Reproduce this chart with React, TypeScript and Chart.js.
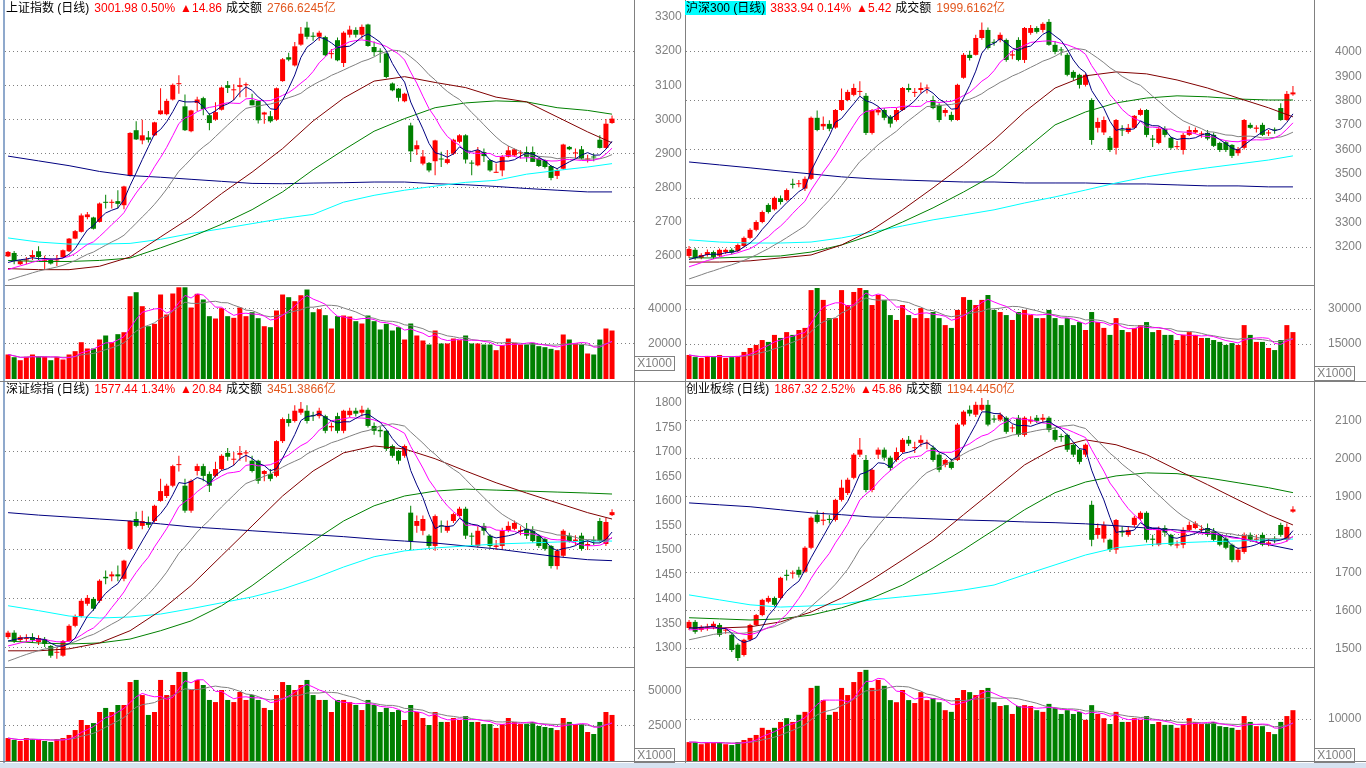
import React, { useEffect, useRef } from "react";
import { Chart, registerables } from "chart.js";

Chart.register(...registerables);

const FONT = '"Liberation Sans", Arial, "Noto Sans CJK SC", sans-serif';
const UP = "#ff0000";
const DOWN = "#008000";
const LINE = "#808080";
const SAMPLE_IDX = [0, 5, 10, 15, 20, 25, 30, 35, 40, 45, 50, 55, 60, 65, 70, 75, 80, 85, 90, 95, 99];

// ---------------- 上证指数 ----------------
const TL_OPEN = [
  2598, 2608, 2575, 2586, 2596, 2613, 2585, 2589, 2586, 2596,
  2613, 2650, 2670, 2713, 2712, 2699, 2758, 2755, 2760, 2748,
  2834, 2968, 2938, 2947, 2953, 3015, 3015, 3058, 3103, 3038,
  2965, 3048, 3062, 3012, 2999, 3028, 3100, 3085, 3095, 3100,
  3056, 3054, 3014, 3009, 2999, 3112, 3182, 3158, 3219, 3269,
  3245, 3242, 3241, 3191, 3232, 3165, 3248, 3262, 3248, 3278,
  3212, 3201, 3193, 3105, 3090, 3053, 2982, 2912, 2870, 2872,
  2877, 2884, 2872, 2899, 2934, 2953, 2872, 2865, 2904, 2880,
  2843, 2850, 2890, 2894, 2900, 2904, 2904, 2885, 2880, 2863,
  2834, 2855, 2919, 2900, 2912, 2882, 2890, 2940, 2916, 2989,
];
const TL_HIGH = [
  2614, 2614, 2587, 2596, 2616, 2628, 2600, 2592, 2602, 2618,
  2652, 2675, 2724, 2728, 2714, 2756, 2779, 2765, 2792, 2805,
  2962, 2994, 2999, 2966, 2993, 3091, 3060, 3105, 3129, 3073,
  3028, 3066, 3066, 3018, 3050, 3096, 3112, 3103, 3122, 3108,
  3075, 3056, 3022, 3024, 3093, 3180, 3195, 3227, 3271, 3286,
  3255, 3260, 3245, 3206, 3240, 3258, 3274, 3270, 3278, 3280,
  3228, 3208, 3196, 3108, 3092, 3078, 2990, 2938, 2910, 2875,
  2940, 2905, 2910, 2943, 2956, 2956, 2880, 2919, 2914, 2882,
  2870, 2895, 2922, 2914, 2909, 2920, 2920, 2888, 2882, 2865,
  2855, 2928, 2922, 2914, 2922, 2896, 2899, 2953, 3001, 3011,
];
const TL_LOW = [
  2596, 2575, 2573, 2575, 2587, 2587, 2559, 2574, 2570, 2594,
  2611, 2648, 2668, 2707, 2677, 2697, 2738, 2738, 2738, 2736,
  2832, 2939, 2927, 2932, 2951, 3013, 3012, 3055, 3075, 2966,
  2962, 3024, 3012, 2968, 2996, 3026, 3077, 3056, 3065, 3065,
  3041, 2988, 2987, 2990, 2996, 3110, 3170, 3155, 3216, 3235,
  3230, 3230, 3185, 3178, 3170, 3153, 3240, 3240, 3236, 3213,
  3185, 3166, 3120, 3082, 3052, 3050, 2875, 2895, 2865, 2845,
  2836, 2860, 2868, 2895, 2930, 2870, 2836, 2862, 2875, 2846,
  2843, 2833, 2888, 2890, 2885, 2875, 2875, 2860, 2856, 2821,
  2825, 2852, 2909, 2885, 2882, 2873, 2877, 2914, 2914, 2987,
];
const TL_CLOSE = [
  2611, 2584, 2584, 2589, 2602, 2596, 2588, 2577, 2589, 2616,
  2650, 2672, 2718, 2721, 2679, 2753, 2755, 2758, 2752, 2803,
  2960, 2941, 2953, 2940, 2991, 3026, 3054, 3101, 3106, 2968,
  3026, 3058, 3030, 2989, 3021, 3093, 3092, 3088, 3100, 3102,
  3041, 2997, 3020, 2994, 3091, 3176, 3175, 3214, 3251, 3242,
  3242, 3254, 3188, 3194, 3173, 3254, 3263, 3248, 3271, 3215,
  3197, 3198, 3124, 3085, 3063, 3075, 2906, 2924, 2891, 2850,
  2938, 2882, 2883, 2940, 2953, 2882, 2870, 2909, 2892, 2850,
  2846, 2890, 2909, 2912, 2903, 2890, 2875, 2863, 2860, 2828,
  2850, 2926, 2912, 2903, 2885, 2885, 2888, 2916, 2987, 3002,
];
const TL_VOL = [
  14000, 12460, 10740, 12680, 14000, 13030, 12680, 10740, 12680, 11140,
  14000, 15900, 21030, 17430, 17430, 22570, 24860, 21030, 25620, 26740,
  47300, 49600, 41600, 30170, 31540, 48280, 36860, 48860, 52400, 52400,
  40850, 48670, 45430, 35900, 34570, 40470, 35900, 34950, 40850, 35900,
  38170, 34760, 30170, 29600, 39140, 48280, 46750, 44470, 47870, 51140,
  38170, 39900, 36470, 28860, 35900, 36280, 35710, 33040, 31710, 36280,
  33040, 28290, 31530, 27710, 29620, 22570, 31710, 24860, 22000, 19710,
  27710, 20290, 20290, 23140, 22190, 24860, 20290, 20290, 19710, 19710,
  16470, 19330, 23140, 20670, 19710, 19710, 20670, 18760, 18190, 17240,
  16470, 25430, 22570, 20290, 19710, 14570, 14000, 22570, 28860, 27710,
];
const TL_PRIOR = [2480, 2470, 2485, 2490, 2495, 2500, 2505, 2510, 2515, 2520, 2525, 2532, 2540, 2545, 2548, 2560, 2568, 2578, 2583];
const TL_MA60 = [2562, 2559, 2559, 2569, 2596, 2655, 2713, 2782, 2845, 2914, 2995, 3062, 3112, 3125, 3108, 3093, 3065, 3051, 3007, 2963, 2931];
const TL_MA120 = [2586, 2583, 2583, 2586, 2593, 2623, 2655, 2692, 2735, 2787, 2852, 2910, 2965, 3002, 3034, 3048, 3054, 3051, 3034, 3026, 3015];
const TL_MA250 = [2652, 2640, 2634, 2634, 2636, 2648, 2665, 2679, 2694, 2709, 2721, 2757, 2777, 2792, 2804, 2815, 2821, 2839, 2850, 2860, 2870];
const TL_MALONG = [2892, 2878, 2864, 2847, 2835, 2830, 2824, 2818, 2812, 2811, 2813, 2814, 2816, 2816, 2811, 2808, 2803, 2797, 2792, 2787, 2787];
const TL_TICKS = [2600, 2700, 2800, 2900, 3000, 3100, 3200, 3300];
const TL_GRID = [2600, 2700, 2800, 2900, 3000, 3100, 3200];
const TL_VTICKS = [20000, 40000];

// ---------------- 沪深300 ----------------
const TR_OPEN = [
  3164, 3189, 3156, 3168, 3180, 3165, 3180, 3189, 3185, 3205,
  3238, 3271, 3303, 3373, 3355, 3400, 3393, 3460, 3458, 3440,
  3480, 3730, 3695, 3705, 3690, 3762, 3803, 3824, 3836, 3820,
  3668, 3752, 3762, 3735, 3721, 3762, 3852, 3832, 3844, 3850,
  3803, 3783, 3750, 3742, 3721, 3894, 3988, 3988, 4057, 4090,
  4040, 4049, 4049, 3985, 4049, 3967, 4078, 4098, 4090, 4123,
  4029, 4010, 3988, 3918, 3906, 3865, 3803, 3689, 3670, 3648,
  3607, 3682, 3672, 3689, 3742, 3762, 3645, 3627, 3685, 3648,
  3610, 3598, 3660, 3670, 3662, 3668, 3660, 3627, 3630, 3619,
  3585, 3607, 3701, 3685, 3701, 3666, 3682, 3770, 3721, 3826,
];
const TR_HIGH = [
  3205, 3197, 3175, 3190, 3186, 3195, 3195, 3196, 3215, 3244,
  3278, 3310, 3350, 3380, 3408, 3412, 3440, 3480, 3475, 3490,
  3735, 3760, 3735, 3720, 3766, 3850, 3845, 3870, 3880, 3832,
  3766, 3775, 3770, 3742, 3770, 3856, 3870, 3852, 3875, 3866,
  3820, 3790, 3770, 3755, 3870, 3995, 4005, 4070, 4120, 4100,
  4052, 4080, 4055, 4005, 4060, 4102, 4110, 4105, 4122, 4135,
  4045, 4020, 3995, 3925, 3910, 3912, 3810, 3730, 3735, 3655,
  3725, 3700, 3705, 3742, 3768, 3766, 3660, 3695, 3695, 3652,
  3635, 3668, 3695, 3690, 3675, 3680, 3670, 3632, 3635, 3622,
  3610, 3725, 3710, 3700, 3710, 3680, 3690, 3790, 3840, 3860,
];
const TR_LOW = [
  3156, 3148, 3150, 3162, 3152, 3160, 3172, 3170, 3180, 3200,
  3232, 3265, 3298, 3338, 3350, 3375, 3388, 3440, 3445, 3430,
  3475, 3675, 3680, 3675, 3685, 3758, 3798, 3818, 3820, 3660,
  3662, 3740, 3720, 3690, 3715, 3758, 3835, 3815, 3830, 3830,
  3765, 3712, 3735, 3715, 3718, 3890, 3965, 3985, 4050, 4010,
  4025, 4040, 3960, 3970, 3962, 3955, 4070, 4075, 4080, 4025,
  3990, 3985, 3900, 3885, 3850, 3858, 3620, 3670, 3660, 3590,
  3580, 3655, 3665, 3685, 3738, 3650, 3610, 3622, 3650, 3600,
  3600, 3580, 3655, 3665, 3648, 3638, 3610, 3590, 3590, 3565,
  3575, 3600, 3685, 3670, 3655, 3655, 3665, 3718, 3718, 3820,
];
const TR_CLOSE = [
  3193, 3156, 3168, 3180, 3160, 3189, 3189, 3178, 3209, 3238,
  3271, 3303, 3344, 3344, 3402, 3385, 3434, 3455, 3462, 3480,
  3730, 3680, 3705, 3685, 3762, 3803, 3836, 3852, 3840, 3668,
  3762, 3762, 3730, 3706, 3762, 3852, 3844, 3836, 3852, 3853,
  3770, 3721, 3762, 3721, 3865, 3988, 3975, 4057, 4090, 4016,
  4037, 4070, 3967, 3990, 3967, 4098, 4098, 4082, 4115, 4029,
  4000, 4006, 3906, 3894, 3865, 3906, 3639, 3713, 3721, 3598,
  3721, 3678, 3689, 3738, 3762, 3660, 3640, 3685, 3660, 3607,
  3614, 3660, 3680, 3680, 3666, 3645, 3615, 3598, 3598, 3574,
  3602, 3721, 3689, 3690, 3660, 3670, 3678, 3721, 3828, 3834,
];
const TR_VOL = [
  10300, 9400, 9000, 9900, 9400, 10300, 9000, 9400, 9900, 11600,
  13300, 14600, 16700, 15900, 18900, 17600, 20100, 18900, 21000, 21900,
  38100, 39000, 33900, 26100, 26100, 38100, 31700, 37300, 39000, 38100,
  31700, 36000, 33900, 27400, 25300, 31700, 27400, 26100, 30400, 26100,
  28700, 26100, 23100, 21900, 29600, 35100, 33900, 31700, 33900, 36000,
  29600, 28700, 27400, 25300, 28700, 29600, 27400, 26100, 26100, 29600,
  26100, 23100, 26100, 23100, 24400, 21000, 28700, 24400, 21900, 18900,
  26100, 21000, 20100, 21900, 23100, 24400, 20100, 21000, 18900, 18900,
  16700, 18900, 20100, 18900, 17600, 17600, 16700, 15900, 14600, 15400,
  14600, 23100, 18900, 15900, 15900, 13300, 12400, 16700, 23100, 20100,
];
const TR_PRIOR = [2990, 2995, 3000, 3010, 3015, 3020, 3030, 3035, 3050, 3055, 3075, 3082, 3090, 3098, 3105, 3120, 3135, 3145, 3153];
const TR_MA60 = [3139, 3139, 3144, 3156, 3168, 3209, 3271, 3353, 3443, 3537, 3639, 3754, 3852, 3902, 3918, 3910, 3885, 3852, 3811, 3771, 3734];
const TR_MA120 = [3156, 3156, 3160, 3164, 3180, 3209, 3250, 3303, 3361, 3426, 3496, 3598, 3701, 3754, 3791, 3811, 3820, 3816, 3807, 3803, 3803];
const TR_MA250 = [3230, 3221, 3217, 3217, 3221, 3238, 3262, 3287, 3312, 3332, 3353, 3381, 3406, 3434, 3463, 3488, 3508, 3525, 3541, 3557, 3574];
const TR_MALONG = [3549, 3537, 3525, 3512, 3500, 3488, 3480, 3475, 3471, 3467, 3467, 3463, 3463, 3463, 3459, 3459, 3455, 3451, 3451, 3447, 3447];
const TR_TICKS = [3200, 3300, 3400, 3500, 3600, 3700, 3800, 3900, 4000];
const TR_GRID = [3200, 3400, 3600, 3800, 4000];
const TR_VTICKS = [15000, 30000];

// ---------------- 深证综指 ----------------
const BL_OPEN = [
  1322, 1331, 1316, 1318, 1322, 1312, 1318, 1304, 1290, 1284,
  1314, 1345, 1365, 1390, 1400, 1396, 1445, 1446, 1450, 1441,
  1502, 1563, 1549, 1556, 1559, 1600, 1610, 1631, 1673, 1631,
  1580, 1661, 1671, 1655, 1651, 1665, 1698, 1684, 1694, 1697,
  1682, 1682, 1655, 1655, 1651, 1722, 1767, 1763, 1780, 1784,
  1775, 1773, 1773, 1750, 1773, 1743, 1775, 1784, 1780, 1786,
  1753, 1745, 1743, 1712, 1702, 1692, 1576, 1549, 1539, 1529,
  1508, 1550, 1539, 1559, 1569, 1584, 1529, 1508, 1549, 1529,
  1506, 1508, 1539, 1543, 1537, 1543, 1539, 1529, 1522, 1508,
  1467, 1488, 1529, 1518, 1529, 1508, 1520, 1559, 1512, 1571,
];
const BL_HIGH = [
  1335, 1336, 1326, 1328, 1330, 1326, 1322, 1306, 1300, 1316,
  1348, 1368, 1400, 1408, 1404, 1440, 1458, 1456, 1468, 1480,
  1560, 1578, 1580, 1568, 1592, 1645, 1635, 1674, 1692, 1645,
  1644, 1676, 1676, 1660, 1680, 1695, 1708, 1700, 1712, 1704,
  1692, 1684, 1663, 1665, 1724, 1770, 1778, 1795, 1802, 1795,
  1782, 1790, 1776, 1760, 1780, 1786, 1790, 1790, 1794, 1790,
  1760, 1752, 1745, 1715, 1704, 1715, 1590, 1570, 1570, 1532,
  1572, 1560, 1560, 1576, 1588, 1588, 1535, 1548, 1555, 1532,
  1520, 1545, 1558, 1560, 1548, 1555, 1548, 1532, 1525, 1510,
  1502, 1542, 1535, 1530, 1535, 1520, 1528, 1565, 1565, 1583,
];
const BL_LOW = [
  1318, 1310, 1312, 1312, 1310, 1306, 1302, 1280, 1278, 1282,
  1312, 1342, 1362, 1386, 1376, 1392, 1430, 1436, 1436, 1436,
  1500, 1546, 1542, 1545, 1556, 1598, 1606, 1628, 1660, 1576,
  1576, 1652, 1640, 1618, 1648, 1662, 1682, 1672, 1682, 1680,
  1658, 1635, 1640, 1640, 1648, 1718, 1752, 1760, 1776, 1758,
  1763, 1768, 1738, 1742, 1738, 1738, 1770, 1772, 1772, 1750,
  1735, 1730, 1702, 1688, 1675, 1688, 1500, 1535, 1530, 1502,
  1498, 1535, 1535, 1555, 1566, 1522, 1510, 1505, 1530, 1504,
  1500, 1500, 1536, 1540, 1530, 1522, 1515, 1504, 1498, 1462,
  1460, 1485, 1515, 1510, 1498, 1500, 1510, 1515, 1508, 1569,
];
const BL_CLOSE = [
  1331, 1314, 1322, 1320, 1316, 1320, 1308, 1284, 1292, 1314,
  1345, 1365, 1396, 1402, 1380, 1437, 1442, 1450, 1446, 1478,
  1559, 1549, 1559, 1551, 1590, 1620, 1631, 1671, 1675, 1580,
  1641, 1671, 1651, 1631, 1665, 1692, 1690, 1686, 1698, 1699,
  1661, 1641, 1661, 1645, 1722, 1767, 1759, 1784, 1788, 1763,
  1773, 1784, 1743, 1753, 1743, 1784, 1784, 1778, 1786, 1753,
  1743, 1742, 1706, 1692, 1682, 1712, 1518, 1559, 1563, 1508,
  1569, 1548, 1549, 1573, 1584, 1529, 1527, 1539, 1539, 1508,
  1509, 1539, 1549, 1555, 1540, 1529, 1518, 1508, 1502, 1467,
  1498, 1539, 1518, 1521, 1502, 1512, 1518, 1518, 1557, 1577,
];
const BL_VOL = [
  16400, 15000, 14300, 16400, 15700, 15000, 14300, 13600, 15700, 16400,
  18600, 22100, 29300, 25700, 27100, 35000, 37900, 35000, 40000, 40000,
  56400, 57900, 47100, 32900, 35000, 57900, 47100, 54300, 63600, 63600,
  50700, 57900, 54300, 43600, 42100, 50700, 43600, 42100, 49300, 43600,
  47100, 43600, 37900, 36400, 47100, 56400, 54300, 50700, 54300, 57900,
  47100, 43600, 43600, 35000, 43600, 43600, 42100, 40000, 36400, 43600,
  40000, 35000, 37900, 35000, 36400, 29300, 40000, 35000, 30700, 25700,
  35000, 27900, 27900, 30700, 29300, 32100, 27900, 27900, 26400, 26400,
  23600, 26400, 30700, 27900, 26400, 26400, 27900, 25000, 24300, 23600,
  22100, 30700, 27900, 26400, 26400, 20700, 19300, 27900, 35000, 32900,
];
const BL_PRIOR = [1225, 1228, 1232, 1236, 1240, 1244, 1248, 1252, 1255, 1260, 1285, 1290, 1294, 1298, 1303, 1300, 1308, 1313, 1318];
const BL_MA60 = [1294, 1294, 1298, 1310, 1335, 1376, 1427, 1488, 1549, 1610, 1661, 1698, 1712, 1706, 1686, 1661, 1637, 1616, 1596, 1576, 1563];
const BL_MA120 = [1314, 1310, 1308, 1310, 1318, 1335, 1355, 1386, 1427, 1473, 1518, 1559, 1590, 1610, 1620, 1624, 1622, 1620, 1618, 1616, 1614];
const BL_MA250 = [1386, 1376, 1365, 1361, 1363, 1369, 1380, 1392, 1404, 1420, 1441, 1465, 1486, 1498, 1504, 1508, 1512, 1514, 1516, 1518, 1518];
const BL_MALONG = [1576, 1571, 1567, 1563, 1559, 1553, 1547, 1543, 1539, 1535, 1531, 1527, 1522, 1518, 1514, 1508, 1502, 1494, 1486, 1480, 1478];
const BL_TICKS = [1300, 1350, 1400, 1450, 1500, 1550, 1600, 1650, 1700, 1750, 1800];
const BL_GRID = [1300, 1400, 1500, 1600, 1700];
const BL_VTICKS = [25000, 50000];

// ---------------- 创业板综 ----------------
const BR_OPEN = [
  1555, 1571, 1550, 1556, 1558, 1563, 1548, 1537, 1511, 1484,
  1524, 1563, 1589, 1624, 1634, 1634, 1695, 1698, 1708, 1703,
  1766, 1853, 1837, 1842, 1839, 1892, 1910, 1950, 2011, 1997,
  1918, 2011, 2024, 2003, 1997, 2018, 2050, 2028, 2042, 2040,
  2029, 2011, 1984, 1992, 1997, 2090, 2129, 2116, 2129, 2142,
  2106, 2103, 2108, 2080, 2108, 2063, 2098, 2108, 2103, 2108,
  2076, 2060, 2063, 2037, 2024, 2011, 1879, 1800, 1790, 1787,
  1761, 1810, 1800, 1826, 1842, 1858, 1790, 1774, 1818, 1800,
  1772, 1774, 1813, 1818, 1813, 1818, 1810, 1800, 1790, 1774,
  1734, 1755, 1800, 1787, 1800, 1776, 1790, 1826, 1787, 1861,
];
const BR_HIGH = [
  1576, 1576, 1562, 1566, 1572, 1568, 1556, 1540, 1515, 1527,
  1566, 1592, 1632, 1640, 1638, 1690, 1708, 1706, 1716, 1770,
  1848, 1865, 1860, 1852, 1895, 1945, 1950, 2015, 2055, 2010,
  1975, 2030, 2030, 2008, 2030, 2055, 2060, 2045, 2062, 2050,
  2035, 2015, 2000, 2000, 2094, 2128, 2140, 2150, 2160, 2155,
  2115, 2122, 2112, 2090, 2115, 2112, 2112, 2115, 2118, 2112,
  2082, 2066, 2066, 2040, 2028, 2040, 1890, 1830, 1835, 1790,
  1842, 1822, 1822, 1850, 1862, 1862, 1800, 1822, 1825, 1803,
  1785, 1820, 1835, 1836, 1825, 1830, 1818, 1803, 1795, 1777,
  1766, 1806, 1806, 1800, 1806, 1790, 1796, 1832, 1830, 1875,
];
const BR_LOW = [
  1550, 1540, 1545, 1548, 1552, 1532, 1540, 1492, 1468, 1480,
  1520, 1560, 1586, 1620, 1610, 1630, 1680, 1685, 1688, 1700,
  1762, 1830, 1825, 1830, 1835, 1888, 1905, 1946, 2005, 1912,
  1912, 2000, 1995, 1968, 1992, 2014, 2034, 2015, 2032, 2025,
  1992, 1965, 1978, 1972, 1994, 2086, 2112, 2110, 2125, 2086,
  2095, 2098, 2066, 2070, 2058, 2058, 2092, 2094, 2096, 2070,
  2045, 2045, 2018, 2005, 1986, 2005, 1770, 1790, 1780, 1755,
  1750, 1795, 1795, 1820, 1838, 1780, 1770, 1770, 1795, 1770,
  1765, 1765, 1810, 1815, 1805, 1795, 1782, 1770, 1762, 1728,
  1728, 1750, 1782, 1780, 1770, 1770, 1778, 1795, 1782, 1858,
];
const BR_CLOSE = [
  1571, 1545, 1558, 1558, 1566, 1537, 1550, 1497, 1476, 1524,
  1563, 1589, 1629, 1634, 1616, 1687, 1692, 1700, 1695, 1766,
  1845, 1834, 1840, 1839, 1892, 1924, 1945, 2011, 2024, 1918,
  1971, 2024, 2003, 1976, 2018, 2050, 2040, 2030, 2050, 2042,
  1997, 1971, 1997, 1976, 2090, 2124, 2119, 2142, 2142, 2090,
  2103, 2116, 2071, 2082, 2063, 2108, 2103, 2100, 2108, 2076,
  2050, 2057, 2024, 2011, 1992, 2037, 1787, 1818, 1826, 1761,
  1839, 1806, 1813, 1845, 1858, 1787, 1787, 1813, 1806, 1774,
  1775, 1813, 1826, 1830, 1815, 1800, 1787, 1774, 1766, 1734,
  1761, 1800, 1787, 1790, 1774, 1780, 1787, 1800, 1821, 1867,
];
const BR_VOL = [
  4500, 4500, 4000, 4500, 4300, 4500, 4000, 3800, 4500, 5000,
  5500, 6200, 7900, 7400, 7900, 9300, 10200, 9300, 11000, 11700,
  17400, 17900, 14500, 11000, 11700, 17400, 15700, 18800, 21200, 21700,
  17400, 19300, 17900, 14500, 14000, 16900, 14500, 13800, 16400, 14500,
  15000, 14000, 12100, 11700, 15000, 16900, 16400, 15700, 16900, 17400,
  14000, 13100, 13300, 11200, 13100, 13300, 13100, 12100, 11700, 13600,
  12600, 11200, 12100, 11200, 11700, 9800, 13300, 11200, 10200, 8800,
  11700, 9300, 9300, 10200, 9800, 10700, 8800, 9300, 8600, 8600,
  7900, 8800, 10200, 9300, 8800, 8800, 9300, 8300, 8100, 7900,
  7400, 10700, 9300, 8300, 8300, 6900, 6400, 9300, 10700, 12100,
];
const BR_PRIOR = [1480, 1484, 1488, 1492, 1496, 1500, 1504, 1508, 1512, 1516, 1538, 1542, 1545, 1548, 1552, 1545, 1549, 1553, 1557];
const BR_MA60 = [1555, 1555, 1558, 1571, 1597, 1634, 1682, 1734, 1787, 1853, 1918, 1984, 2029, 2050, 2037, 2011, 1971, 1932, 1892, 1853, 1826];
const BR_MA120 = [1582, 1579, 1576, 1579, 1589, 1608, 1634, 1668, 1713, 1761, 1813, 1866, 1911, 1939, 1955, 1963, 1961, 1950, 1937, 1924, 1911];
const BR_MA250 = [1642, 1629, 1616, 1610, 1613, 1618, 1629, 1637, 1645, 1655, 1668, 1695, 1721, 1747, 1766, 1774, 1779, 1782, 1784, 1787, 1789];
const BR_MALONG = [1884, 1879, 1874, 1866, 1858, 1853, 1847, 1845, 1842, 1839, 1837, 1834, 1832, 1829, 1824, 1818, 1813, 1805, 1792, 1774, 1761];
const BR_TICKS = [1500, 1600, 1700, 1800, 1900, 2000, 2100];
const BR_GRID = [1500, 1600, 1700, 1800, 1900, 2000, 2100];
const BR_VTICKS = [10000];

// ---------------- helpers ----------------
function movingAvg(values: number[], prior: number[], k: number) {
  const all = prior.concat(values);
  return values.map((_, i) => {
    const j = i + prior.length;
    let s = 0;
    let n = 0;
    for (let t = Math.max(0, j - k + 1); t <= j; t++) {
      s += all[t];
      n++;
    }
    return { x: i, y: s / n };
  });
}

function lineDs(data: any[], color: string) {
  return {
    type: "line" as const,
    data,
    borderColor: color,
    borderWidth: 1,
    pointRadius: 0,
    tension: 0,
    fill: false,
    order: 1,
  };
}

function yAxis(min: number, max: number, ticks: number[], grid: number[], axisW: number, gap: number) {
  return {
    position: "right" as const,
    min,
    max,
    afterFit: (s: any) => {
      s.width = axisW;
    },
    afterBuildTicks: (s: any) => {
      s.ticks = ticks.map((v) => ({ value: v }));
    },
    grid: {
      color: (ctx: any) => (ctx.tick && grid.includes(ctx.tick.value) ? "#808080" : "rgba(0,0,0,0)"),
      drawTicks: true,
      tickLength: gap,
      tickColor: "rgba(0,0,0,0)",
      lineWidth: 1,
    },
    border: { display: false, dash: [1, 3] },
    ticks: {
      color: "#808080",
      font: { family: FONT, size: 12 },
      padding: 0,
      crossAlign: "near" as const,
      callback: (v: any) => String(v),
    },
  };
}

type PriceProps = {
  left: number; top: number; width: number; height: number; padLeft: number; axisW: number; xMax: number;
  yMin: number; yMax: number; ticks: number[]; grid: number[];
  o: number[]; h: number[]; l: number[]; c: number[]; prior: number[];
  ma60: number[]; ma120: number[]; ma250: number[]; maLong: number[];
};

function PriceChart(p: PriceProps) {
  const ref = useRef<HTMLCanvasElement>(null);
  useEffect(() => {
    const colors = p.c.map((v, i) => (v >= p.o[i] ? UP : DOWN));
    const sampled = (arr: number[]) => SAMPLE_IDX.map((x, k) => ({ x, y: arr[k] }));
    const chart = new Chart(ref.current as HTMLCanvasElement, {
      type: "bar",
      data: {
        datasets: [
          lineDs(movingAvg(p.c, p.prior, 5), "#000080"),
          lineDs(movingAvg(p.c, p.prior, 10), "#ff00ff"),
          lineDs(movingAvg(p.c, p.prior, 20), "#808080"),
          lineDs(sampled(p.ma60), "#800000"),
          lineDs(sampled(p.ma120), "#008000"),
          lineDs(sampled(p.ma250), "#00ffff"),
          lineDs(sampled(p.maLong), "#000080"),
          {
            type: "bar",
            data: p.c.map((v, i) => ({ x: i, y: [p.o[i], v] })),
            backgroundColor: colors,
            barThickness: 5,
            minBarLength: 1,
            grouped: false,
            inflateAmount: 0,
            order: 2,
          },
          {
            type: "bar",
            data: p.c.map((_, i) => ({ x: i, y: [p.l[i], p.h[i]] })),
            backgroundColor: colors,
            barThickness: 1,
            grouped: false,
            inflateAmount: 0,
            order: 3,
          },
        ] as any,
      },
      options: {
        animation: false,
        responsive: false,
        maintainAspectRatio: false,
        layout: { padding: { left: p.padLeft, right: 0, top: 8, bottom: 8 } },
        plugins: { legend: { display: false }, tooltip: { enabled: false } },
        scales: {
          x: { type: "linear", min: -0.5, max: p.xMax, display: false, offset: false },
          y: yAxis(p.yMin, p.yMax, p.ticks, p.grid, p.axisW, 21) as any,
        },
      },
    });
    return () => chart.destroy();
  }, []);
  return (
    <canvas
      ref={ref}
      width={p.width}
      height={p.height}
      style={{ position: "absolute", left: p.left, top: p.top, width: p.width, height: p.height }}
    />
  );
}

type VolProps = {
  left: number; top: number; width: number; height: number; padLeft: number; axisW: number; xMax: number;
  vMax: number; ticks: number[]; v: number[]; o: number[]; c: number[];
};

function VolumeChart(p: VolProps) {
  const ref = useRef<HTMLCanvasElement>(null);
  useEffect(() => {
    const colors = p.c.map((v, i) => (v >= p.o[i] ? UP : DOWN));
    const chart = new Chart(ref.current as HTMLCanvasElement, {
      type: "bar",
      data: {
        datasets: [
          lineDs(movingAvg(p.v, [], 5), "#ff00ff"),
          lineDs(movingAvg(p.v, [], 10), "#808080"),
          {
            type: "bar",
            data: p.v.map((v, i) => ({ x: i, y: v })),
            backgroundColor: colors,
            barThickness: 5,
            grouped: false,
            inflateAmount: 0,
            order: 2,
          },
        ] as any,
      },
      options: {
        animation: false,
        responsive: false,
        maintainAspectRatio: false,
        layout: { padding: { left: p.padLeft, right: 0, top: 8, bottom: 8 } },
        plugins: { legend: { display: false }, tooltip: { enabled: false } },
        scales: {
          x: { type: "linear", min: -0.5, max: p.xMax, display: false, offset: false },
          y: yAxis(0, p.vMax, p.ticks, p.ticks, p.axisW, 14) as any,
        },
      },
    });
    return () => chart.destroy();
  }, []);
  return (
    <canvas
      ref={ref}
      width={p.width}
      height={p.height}
      style={{ position: "absolute", left: p.left, top: p.top, width: p.width, height: p.height }}
    />
  );
}

function Header(p: { left: number; top: number; name: string; bg?: string; price: string; change: string; amount: string }) {
  return (
    <div
      style={{
        position: "absolute",
        left: p.left,
        top: p.top,
        fontFamily: FONT,
        fontSize: 12,
        lineHeight: "14px",
        whiteSpace: "pre",
        color: "#000",
      }}
    >
      <span style={{ background: p.bg || "transparent", display: "inline-block", paddingLeft: 1, paddingRight: 1 }}>{p.name}</span>
      <span style={{ color: "#ff0000", marginLeft: 4 }}>{p.price}</span>
      <span style={{ color: "#ff0000", marginLeft: 5 }}>{"▲" + p.change}</span>
      <span style={{ marginLeft: 4 }}>成交额</span>
      <span style={{ color: "#e2571e", marginLeft: 5 }}>{p.amount}</span>
    </div>
  );
}

function Box(p: { left: number; top: number }) {
  return (
    <div
      style={{
        position: "absolute",
        left: p.left,
        top: p.top,
        width: 39,
        height: 13,
        border: "1px solid #808080",
        fontFamily: FONT,
        fontSize: 12,
        lineHeight: "13px",
        color: "#808080",
        textAlign: "center",
        boxSizing: "content-box",
      }}
    >
      X1000
    </div>
  );
}

function HLine(p: { x: number; y: number; w: number; color?: string }) {
  return <div style={{ position: "absolute", left: p.x, top: p.y, width: p.w, height: 1, background: p.color || LINE }} />;
}
function VLine(p: { x: number; y: number; h: number; color?: string; w?: number }) {
  return <div style={{ position: "absolute", left: p.x, top: p.y, width: p.w || 1, height: p.h, background: p.color || LINE }} />;
}

export default function App() {
  const LX = 102.6;
  const RX = 102.45;
  return (
    <div style={{ position: "absolute", left: 0, top: 0, width: 1366, height: 768, background: "#fff", overflow: "hidden" }}>
      {/* top-left 上证指数 */}
      <PriceChart left={0} top={9} width={685} height={284} padLeft={5} axisW={51} xMax={LX}
        yMin={2514} yMax={3300} ticks={TL_TICKS} grid={TL_GRID}
        o={TL_OPEN} h={TL_HIGH} l={TL_LOW} c={TL_CLOSE} prior={TL_PRIOR}
        ma60={TL_MA60} ma120={TL_MA120} ma250={TL_MA250} maLong={TL_MALONG} />
      <VolumeChart left={0} top={279} width={685} height={108} padLeft={5} axisW={51} xMax={LX}
        vMax={52571} ticks={TL_VTICKS} v={TL_VOL} o={TL_OPEN} c={TL_CLOSE} />
      {/* top-right 沪深300 */}
      <PriceChart left={685} top={9} width={681} height={284} padLeft={1} axisW={52} xMax={RX}
        yMin={3045} yMax={4143} ticks={TR_TICKS} grid={TR_GRID}
        o={TR_OPEN} h={TR_HIGH} l={TR_LOW} c={TR_CLOSE} prior={TR_PRIOR}
        ma60={TR_MA60} ma120={TR_MA120} ma250={TR_MA250} maLong={TR_MALONG} />
      <VolumeChart left={685} top={279} width={681} height={108} padLeft={1} axisW={52} xMax={RX}
        vMax={39429} ticks={TR_VTICKS} v={TR_VOL} o={TR_OPEN} c={TR_CLOSE} />
      {/* bottom-left 深证综指 */}
      <PriceChart left={0} top={390} width={685} height={284} padLeft={5} axisW={51} xMax={LX}
        yMin={1263} yMax={1810} ticks={BL_TICKS} grid={BL_GRID}
        o={BL_OPEN} h={BL_HIGH} l={BL_LOW} c={BL_CLOSE} prior={BL_PRIOR}
        ma60={BL_MA60} ma120={BL_MA120} ma250={BL_MA250} maLong={BL_MALONG} />
      <VolumeChart left={0} top={661} width={685} height={108} padLeft={5} axisW={51} xMax={LX}
        vMax={65714} ticks={BL_VTICKS} v={BL_VOL} o={BL_OPEN} c={BL_CLOSE} />
      {/* bottom-right 创业板综 */}
      <PriceChart left={685} top={390} width={681} height={284} padLeft={1} axisW={52} xMax={RX}
        yMin={1455} yMax={2160} ticks={BR_TICKS} grid={BR_GRID}
        o={BR_OPEN} h={BR_HIGH} l={BR_LOW} c={BR_CLOSE} prior={BR_PRIOR}
        ma60={BR_MA60} ma120={BR_MA120} ma250={BR_MA250} maLong={BR_MALONG} />
      <VolumeChart left={685} top={661} width={681} height={108} padLeft={1} axisW={52} xMax={RX}
        vMax={21905} ticks={BR_VTICKS} v={BR_VOL} o={BR_OPEN} c={BR_CLOSE} />

      {/* frame lines */}
      <VLine x={3} y={0} h={768} color="#8fa9cc" w={2} />
      <VLine x={634} y={0} h={768} />
      <VLine x={685} y={0} h={768} />
      <VLine x={1314} y={0} h={768} />
      <HLine x={5} y={285} w={629} />
      <HLine x={686} y={285} w={628} />
      <HLine x={0} y={381} w={1366} />
      <HLine x={5} y={667} w={629} />
      <HLine x={686} y={667} w={628} />
      <HLine x={0} y={761} w={1366} />
      <div style={{ position: "absolute", left: 0, top: 763, width: 1366, height: 5, background: "#d6e2f0" }} />

      <Box left={634} top={356} />
      <Box left={1314} top={366} />
      <Box left={634} top={748} />
      <Box left={1314} top={748} />

      <Header left={5} top={1} name="上证指数 (日线)" price="3001.98 0.50%" change="14.86" amount="2766.6245亿" />
      <Header left={685} top={1} name="沪深300 (日线)" bg="#00ffff" price="3833.94 0.14%" change="5.42" amount="1999.6162亿" />
      <Header left={5} top={382} name="深证综指 (日线)" price="1577.44 1.34%" change="20.84" amount="3451.3866亿" />
      <Header left={685} top={382} name="创业板综 (日线)" price="1867.32 2.52%" change="45.86" amount="1194.4450亿" />
    </div>
  );
}
